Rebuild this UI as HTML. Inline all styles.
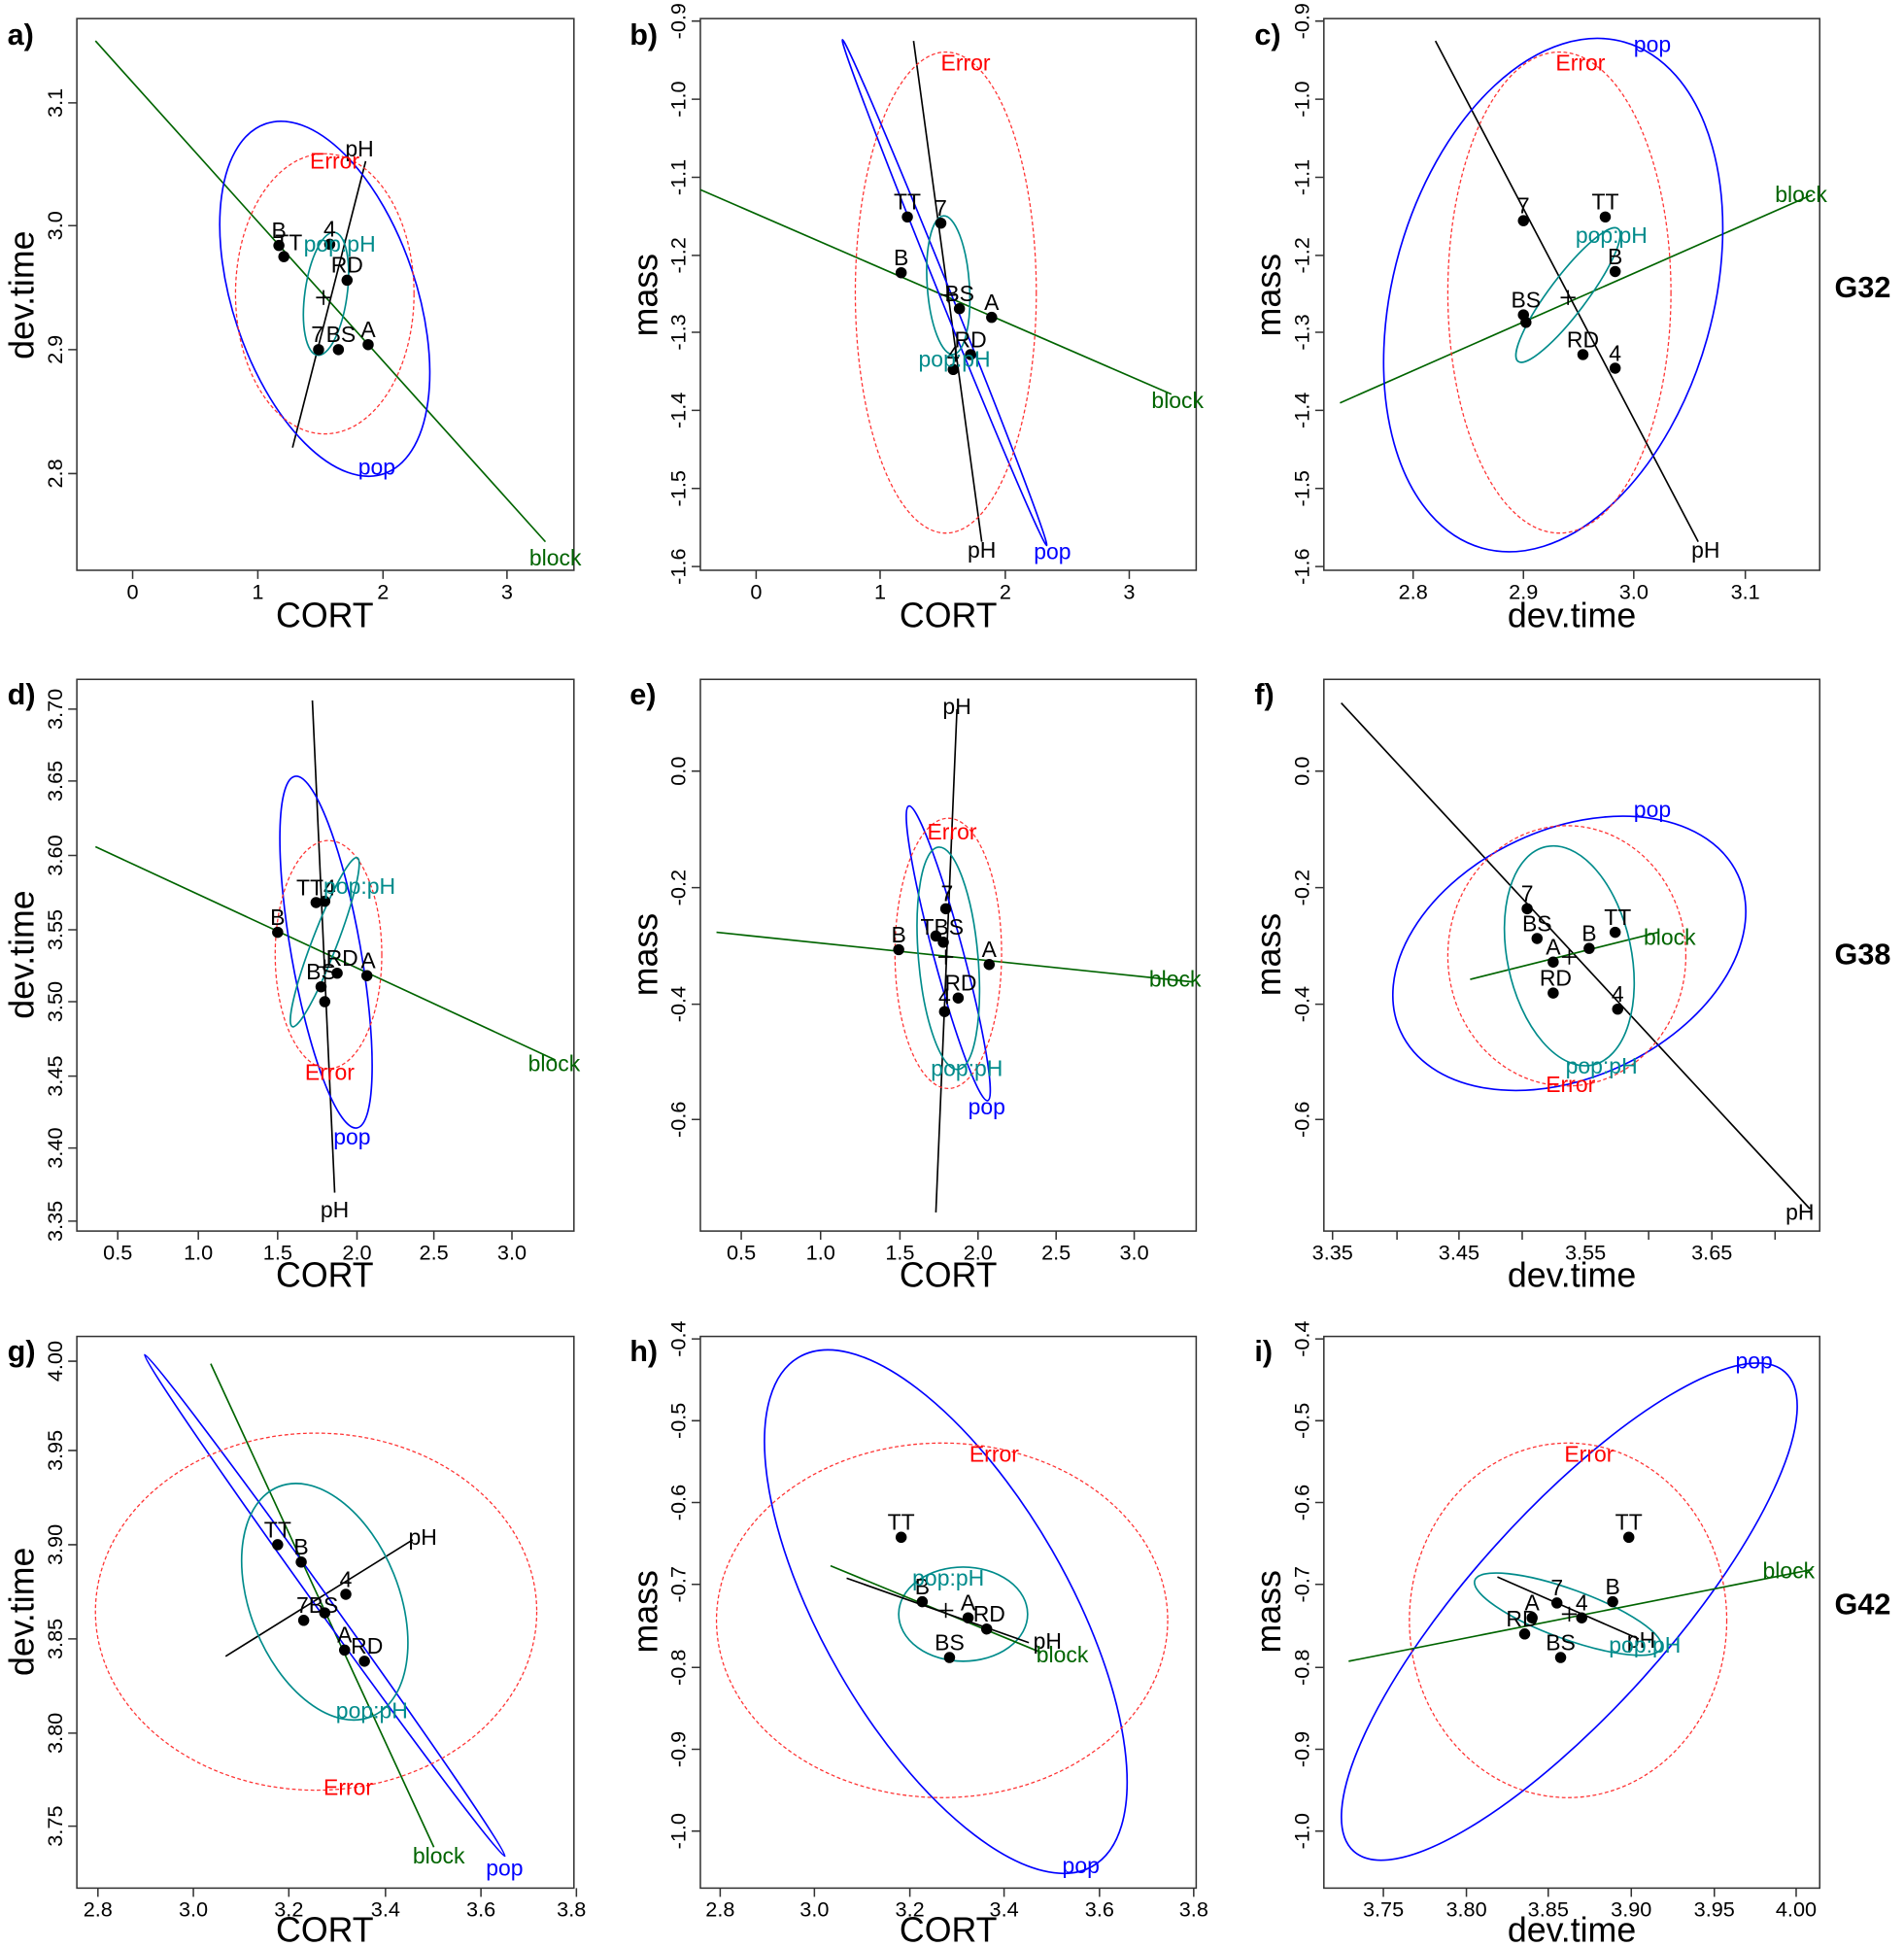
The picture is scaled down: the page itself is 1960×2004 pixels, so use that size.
<!DOCTYPE html>
<html><head><meta charset="utf-8"><style>html,body{margin:0;padding:0;background:#fff}svg{display:block}</style></head><body>
<svg width="1960" height="2004" viewBox="0 0 1536 1570.5" preserveAspectRatio="none" xmlns="http://www.w3.org/2000/svg" font-family="Liberation Sans, sans-serif">
<rect width="1536" height="1571" fill="#fff"/>
<g fill="none" stroke="#333" stroke-width="1.2">
<rect x="62" y="15" width="401" height="445"/><rect x="565" y="15" width="400" height="445"/><rect x="1068" y="15" width="400" height="445"/>
<rect x="62" y="548" width="401" height="445"/><rect x="565" y="548" width="400" height="445"/><rect x="1068" y="548" width="400" height="445"/>
<rect x="62" y="1078" width="401" height="445"/><rect x="565" y="1078" width="400" height="445"/><rect x="1068" y="1078" width="400" height="445"/>
</g>
<g stroke="#333" stroke-width="1.2">
<path d="M107 460v7M208 460v7M309 460v7M409 460v7M62 83h-7M62 182h-7M62 282h-7M62 382h-7"/>
<path d="M610 460v7M710 460v7M811 460v7M911 460v7M565 17h-7M565 80h-7M565 143h-7M565 206h-7M565 268h-7M565 331h-7M565 394h-7M565 457h-7"/>
<path d="M1140 460v7M1229 460v7M1318 460v7M1408 460v7M1068 17h-7M1068 80h-7M1068 143h-7M1068 206h-7M1068 268h-7M1068 331h-7M1068 394h-7M1068 457h-7"/>
<path d="M95 993v7M160 993v7M224 993v7M288 993v7M350 993v7M413 993v7M62 572h-7M62 630h-7M62 690h-7M62 750h-7M62 808h-7M62 868h-7M62 926h-7M62 985h-7"/>
<path d="M598 993v7M662 993v7M726 993v7M789 993v7M852 993v7M915 993v7M565 622h-7M565 716h-7M565 810h-7M565 903h-7"/>
<path d="M1075 993v7M1127 993v7M1177 993v7M1228 993v7M1279 993v7M1330 993v7M1381 993v7M1432 993v7M1068 622h-7M1068 716h-7M1068 810h-7M1068 903h-7"/>
<path d="M79 1523v7M156 1523v7M233 1523v7M311 1523v7M388 1523v7M465 1523v7M62 1098h-7M62 1170h-7M62 1246h-7M62 1322h-7M62 1398h-7M62 1473h-7"/>
<path d="M581 1523v7M657 1523v7M734 1523v7M810 1523v7M887 1523v7M963 1523v7M565 1080h-7M565 1146h-7M565 1212h-7M565 1278h-7M565 1345h-7M565 1411h-7M565 1477h-7"/>
<path d="M1116 1523v7M1183 1523v7M1249 1523v7M1316 1523v7M1383 1523v7M1449 1523v7M1068 1080h-7M1068 1146h-7M1068 1212h-7M1068 1278h-7M1068 1345h-7M1068 1411h-7M1068 1477h-7"/>
</g>
<g font-size="17" text-anchor="middle" fill="#000">
<text x="107" y="483">0</text><text x="208" y="483">1</text><text x="309" y="483">2</text><text x="409" y="483">3</text>
<text x="610" y="483">0</text><text x="710" y="483">1</text><text x="811" y="483">2</text><text x="911" y="483">3</text>
<text x="1140" y="483">2.8</text><text x="1229" y="483">2.9</text><text x="1318" y="483">3.0</text><text x="1408" y="483">3.1</text>
<text x="95" y="1016">0.5</text><text x="160" y="1016">1.0</text><text x="224" y="1016">1.5</text><text x="288" y="1016">2.0</text><text x="350" y="1016">2.5</text><text x="413" y="1016">3.0</text>
<text x="598" y="1016">0.5</text><text x="662" y="1016">1.0</text><text x="726" y="1016">1.5</text><text x="789" y="1016">2.0</text><text x="852" y="1016">2.5</text><text x="915" y="1016">3.0</text>
<text x="1075" y="1016">3.35</text><text x="1177" y="1016">3.45</text><text x="1279" y="1016">3.55</text><text x="1381" y="1016">3.65</text>
<text x="79" y="1546">2.8</text><text x="156" y="1546">3.0</text><text x="233" y="1546">3.2</text><text x="311" y="1546">3.4</text><text x="388" y="1546">3.6</text><text x="461" y="1546">3.8</text>
<text x="581" y="1546">2.8</text><text x="657" y="1546">3.0</text><text x="734" y="1546">3.2</text><text x="810" y="1546">3.4</text><text x="887" y="1546">3.6</text><text x="963" y="1546">3.8</text>
<text x="1116" y="1546">3.75</text><text x="1183" y="1546">3.80</text><text x="1249" y="1546">3.85</text><text x="1316" y="1546">3.90</text><text x="1383" y="1546">3.95</text><text x="1449" y="1546">4.00</text>
</g>
<g font-size="17" text-anchor="middle" fill="#000">
<text transform="translate(50,83) rotate(-90)">3.1</text><text transform="translate(50,182) rotate(-90)">3.0</text><text transform="translate(50,282) rotate(-90)">2.9</text><text transform="translate(50,382) rotate(-90)">2.8</text>
<text transform="translate(553,17) rotate(-90)">-0.9</text><text transform="translate(553,80) rotate(-90)">-1.0</text><text transform="translate(553,143) rotate(-90)">-1.1</text><text transform="translate(553,206) rotate(-90)">-1.2</text><text transform="translate(553,268) rotate(-90)">-1.3</text><text transform="translate(553,331) rotate(-90)">-1.4</text><text transform="translate(553,394) rotate(-90)">-1.5</text><text transform="translate(553,457) rotate(-90)">-1.6</text>
<text transform="translate(1056,17) rotate(-90)">-0.9</text><text transform="translate(1056,80) rotate(-90)">-1.0</text><text transform="translate(1056,143) rotate(-90)">-1.1</text><text transform="translate(1056,206) rotate(-90)">-1.2</text><text transform="translate(1056,268) rotate(-90)">-1.3</text><text transform="translate(1056,331) rotate(-90)">-1.4</text><text transform="translate(1056,394) rotate(-90)">-1.5</text><text transform="translate(1056,457) rotate(-90)">-1.6</text>
<text transform="translate(50,572) rotate(-90)">3.70</text><text transform="translate(50,630) rotate(-90)">3.65</text><text transform="translate(50,690) rotate(-90)">3.60</text><text transform="translate(50,750) rotate(-90)">3.55</text><text transform="translate(50,808) rotate(-90)">3.50</text><text transform="translate(50,868) rotate(-90)">3.45</text><text transform="translate(50,926) rotate(-90)">3.40</text><text transform="translate(50,985) rotate(-90)">3.35</text>
<text transform="translate(553,622) rotate(-90)">0.0</text><text transform="translate(553,716) rotate(-90)">-0.2</text><text transform="translate(553,810) rotate(-90)">-0.4</text><text transform="translate(553,903) rotate(-90)">-0.6</text>
<text transform="translate(1056,622) rotate(-90)">0.0</text><text transform="translate(1056,716) rotate(-90)">-0.2</text><text transform="translate(1056,810) rotate(-90)">-0.4</text><text transform="translate(1056,903) rotate(-90)">-0.6</text>
<text transform="translate(50,1098) rotate(-90)">4.00</text><text transform="translate(50,1170) rotate(-90)">3.95</text><text transform="translate(50,1246) rotate(-90)">3.90</text><text transform="translate(50,1322) rotate(-90)">3.85</text><text transform="translate(50,1398) rotate(-90)">3.80</text><text transform="translate(50,1473) rotate(-90)">3.75</text>
<text transform="translate(553,1080) rotate(-90)">-0.4</text><text transform="translate(553,1146) rotate(-90)">-0.5</text><text transform="translate(553,1212) rotate(-90)">-0.6</text><text transform="translate(553,1278) rotate(-90)">-0.7</text><text transform="translate(553,1345) rotate(-90)">-0.8</text><text transform="translate(553,1411) rotate(-90)">-0.9</text><text transform="translate(553,1477) rotate(-90)">-1.0</text>
<text transform="translate(1056,1080) rotate(-90)">-0.4</text><text transform="translate(1056,1146) rotate(-90)">-0.5</text><text transform="translate(1056,1212) rotate(-90)">-0.6</text><text transform="translate(1056,1278) rotate(-90)">-0.7</text><text transform="translate(1056,1345) rotate(-90)">-0.8</text><text transform="translate(1056,1411) rotate(-90)">-0.9</text><text transform="translate(1056,1477) rotate(-90)">-1.0</text>
</g>
<g font-size="28" text-anchor="middle" fill="#000">
<text x="262" y="506">CORT</text><text x="765" y="506">CORT</text><text x="1268" y="506">dev.time</text>
<text x="262" y="1038">CORT</text><text x="765" y="1038">CORT</text><text x="1268" y="1038">dev.time</text>
<text x="262" y="1566">CORT</text><text x="765" y="1566">CORT</text><text x="1268" y="1566">dev.time</text>
<text transform="translate(27,238) rotate(-90)">dev.time</text><text transform="translate(530,238) rotate(-90)">mass</text><text transform="translate(1033,238) rotate(-90)">mass</text>
<text transform="translate(27,770) rotate(-90)">dev.time</text><text transform="translate(530,770) rotate(-90)">mass</text><text transform="translate(1033,770) rotate(-90)">mass</text>
<text transform="translate(27,1300) rotate(-90)">dev.time</text><text transform="translate(530,1300) rotate(-90)">mass</text><text transform="translate(1033,1300) rotate(-90)">mass</text>
</g>
<g font-size="24" font-weight="bold" fill="#000">
<text x="6" y="36">a)</text><text x="508" y="36">b)</text><text x="1012" y="36">c)</text>
<text x="6" y="568">d)</text><text x="508" y="568">e)</text><text x="1012" y="568">f)</text>
<text x="6" y="1098">g)</text><text x="508" y="1098">h)</text><text x="1012" y="1098">i)</text>
<text x="1480" y="240">G32</text><text x="1480" y="778">G38</text><text x="1480" y="1302">G42</text>
</g>

<!-- PANEL a -->
<g fill="none" stroke-width="1.3">
<line x1="77" y1="33" x2="440" y2="437" stroke="#006400"/>
<line x1="236" y1="361" x2="295" y2="130" stroke="#000"/>
<ellipse cx="262" cy="241" rx="74" ry="149" transform="rotate(-18.6 262 241)" stroke="#00f"/>
<ellipse cx="262" cy="237" rx="72" ry="113" stroke="#f33" stroke-dasharray="3,2" stroke-width="1"/>
<ellipse cx="263" cy="237" rx="17" ry="50" transform="rotate(8 263 237)" stroke="#008b8b"/>
<path d="M255 240h12M261 234v12" stroke="#000"/>
</g>
<g fill="#000"><circle cx="225" cy="198" r="4.5"/><circle cx="229" cy="207" r="4.5"/><circle cx="266" cy="197" r="4.5"/><circle cx="280" cy="226" r="4.5"/><circle cx="257" cy="282" r="4.5"/><circle cx="273" cy="282" r="4.5"/><circle cx="297" cy="278" r="4.5"/></g>
<g font-size="18" text-anchor="middle">
<text x="225" y="192">B</text><text x="233" y="202">TT</text><text x="266" y="191">4</text><text x="280" y="220">RD</text><text x="256" y="276">7</text><text x="275" y="276">BS</text><text x="297" y="272">A</text>
<text x="290" y="126" fill="#000">pH</text><text x="270" y="136" fill="#f00">Error</text><text x="274" y="203" fill="#008b8b">pop:pH</text><text x="304" y="383" fill="#00f">pop</text><text x="448" y="456" fill="#006400">block</text>
</g>

<!-- PANEL b -->
<g fill="none" stroke-width="1.3">
<line x1="565" y1="153" x2="945" y2="318" stroke="#006400"/>
<line x1="737" y1="33" x2="792" y2="437" stroke="#000"/>
<ellipse cx="762" cy="236" rx="4.5" ry="220" transform="rotate(-22 762 236)" stroke="#00f"/>
<ellipse cx="763" cy="236" rx="73" ry="194" stroke="#f33" stroke-dasharray="3,2" stroke-width="1"/>
<ellipse cx="765" cy="230" rx="17" ry="56" transform="rotate(-4 765 230)" stroke="#008b8b"/>
<path d="M759 238h12M765 232v12" stroke="#000"/>
</g>
<g fill="#000"><circle cx="732" cy="175" r="4.5"/><circle cx="759" cy="180" r="4.5"/><circle cx="727" cy="220" r="4.5"/><circle cx="774" cy="249" r="4.5"/><circle cx="800" cy="256" r="4.5"/><circle cx="783" cy="286" r="4.5"/><circle cx="769" cy="298" r="4.5"/></g>
<g font-size="18" text-anchor="middle">
<text x="732" y="169">TT</text><text x="759" y="174">7</text><text x="727" y="214">B</text><text x="774" y="243">BS</text><text x="800" y="250">A</text><text x="783" y="280">RD</text><text x="769" y="292">4</text>
<text x="792" y="450" fill="#000">pH</text><text x="779" y="57" fill="#f00">Error</text><text x="770" y="296" fill="#008b8b">pop:pH</text><text x="849" y="451" fill="#00f">pop</text><text x="950" y="329" fill="#006400">block</text>
</g>

<!-- PANEL c -->
<g fill="none" stroke-width="1.3">
<line x1="1081" y1="325" x2="1462" y2="157" stroke="#006400"/>
<line x1="1158" y1="33" x2="1370" y2="437" stroke="#000"/>
<ellipse cx="1253" cy="238" rx="129" ry="212" transform="rotate(15.7 1253 238)" stroke="#00f"/>
<ellipse cx="1258" cy="236" rx="90" ry="194" stroke="#f33" stroke-dasharray="3,2" stroke-width="1"/>
<ellipse cx="1265" cy="238" rx="15" ry="67" transform="rotate(37 1265 238)" stroke="#008b8b"/>
<path d="M1259 240h12M1265 234v12" stroke="#000"/>
</g>
<g fill="#000"><circle cx="1229" cy="178" r="4.5"/><circle cx="1295" cy="175" r="4.5"/><circle cx="1303" cy="219" r="4.5"/><circle cx="1229" cy="254" r="4.5"/><circle cx="1231" cy="260" r="4.5"/><circle cx="1277" cy="286" r="4.5"/><circle cx="1303" cy="297" r="4.5"/></g>
<g font-size="18" text-anchor="middle">
<text x="1229" y="172">7</text><text x="1295" y="169">TT</text><text x="1303" y="213">B</text><text x="1231" y="248">BS</text><text x="1277" y="280">RD</text><text x="1303" y="291">4</text>
<text x="1376" y="450" fill="#000">pH</text><text x="1275" y="57" fill="#f00">Error</text><text x="1300" y="196" fill="#008b8b">pop:pH</text><text x="1333" y="42" fill="#00f">pop</text><text x="1453" y="163" fill="#006400">block</text>
</g>

<!-- PANEL d -->
<g fill="none" stroke-width="1.3">
<line x1="77" y1="683" x2="448" y2="855" stroke="#006400"/>
<line x1="252" y1="565" x2="270" y2="962" stroke="#000"/>
<ellipse cx="263" cy="768" rx="28" ry="144" transform="rotate(-10 263 768)" stroke="#00f"/>
<ellipse cx="265" cy="770" rx="43" ry="92" stroke="#f33" stroke-dasharray="3,2" stroke-width="1"/>
<ellipse cx="262" cy="760" rx="10" ry="73" transform="rotate(21 262 760)" stroke="#008b8b"/>
<path d="M256 780h12M262 774v12" stroke="#000"/>
</g>
<g fill="#000"><circle cx="224" cy="752" r="4.5"/><circle cx="255" cy="728" r="4.5"/><circle cx="262" cy="727" r="4.5"/><circle cx="272" cy="785" r="4.5"/><circle cx="296" cy="787" r="4.5"/><circle cx="259" cy="796" r="4.5"/><circle cx="262" cy="808" r="4.5"/></g>
<g font-size="18" text-anchor="middle">
<text x="224" y="746">B</text><text x="255" y="722">TT4</text><text x="276" y="779">RD</text><text x="297" y="781">A</text><text x="259" y="790">BS</text>
<text x="270" y="982" fill="#000">pH</text><text x="266" y="871" fill="#f00">Error</text><text x="290" y="721" fill="#008b8b">pop:pH</text><text x="284" y="923" fill="#00f">pop</text><text x="447" y="864" fill="#006400">block</text>
</g>

<!-- PANEL e -->
<g fill="none" stroke-width="1.3">
<line x1="578" y1="752" x2="962" y2="792" stroke="#006400"/>
<line x1="755" y1="978" x2="772" y2="572" stroke="#000"/>
<ellipse cx="765" cy="769" rx="12" ry="123" transform="rotate(-15 765 769)" stroke="#00f"/>
<ellipse cx="765" cy="769" rx="43" ry="109" stroke="#f33" stroke-dasharray="3,2" stroke-width="1"/>
<ellipse cx="765" cy="773" rx="24" ry="90" transform="rotate(-5 765 773)" stroke="#008b8b"/>
<path d="M757 772h12M763 766v12" stroke="#000"/>
</g>
<g fill="#000"><circle cx="725" cy="766" r="4.5"/><circle cx="763" cy="733" r="4.5"/><circle cx="755" cy="755" r="4.5"/><circle cx="761" cy="760" r="4.5"/><circle cx="798" cy="778" r="4.5"/><circle cx="773" cy="805" r="4.5"/><circle cx="762" cy="816" r="4.5"/></g>
<g font-size="18" text-anchor="middle">
<text x="725" y="760">B</text><text x="764" y="727">7</text><text x="760" y="754">TBS</text><text x="798" y="772">A</text><text x="775" y="799">RD</text><text x="762" y="810">4</text>
<text x="772" y="576" fill="#000">pH</text><text x="768" y="677" fill="#f00">Error</text><text x="780" y="868" fill="#008b8b">pop:pH</text><text x="796" y="899" fill="#00f">pop</text><text x="948" y="796" fill="#006400">block</text>
</g>

<!-- PANEL f -->
<g fill="none" stroke-width="1.3">
<line x1="1082" y1="567" x2="1460" y2="975" stroke="#000"/>
<line x1="1186" y1="790" x2="1338" y2="752" stroke="#006400"/>
<ellipse cx="1266" cy="769" rx="150" ry="100" transform="rotate(-25 1266 769)" stroke="#00f"/>
<ellipse cx="1264" cy="771" rx="96" ry="105" stroke="#f33" stroke-dasharray="3,2" stroke-width="1"/>
<ellipse cx="1266" cy="771" rx="50" ry="90" transform="rotate(-12 1266 771)" stroke="#008b8b"/>
<path d="M1260 772h12M1266 766v12" stroke="#000"/>
</g>
<g fill="#000"><circle cx="1232" cy="733" r="4.5"/><circle cx="1240" cy="757" r="4.5"/><circle cx="1253" cy="776" r="4.5"/><circle cx="1282" cy="765" r="4.5"/><circle cx="1303" cy="752" r="4.5"/><circle cx="1253" cy="801" r="4.5"/><circle cx="1305" cy="814" r="4.5"/></g>
<g font-size="18" text-anchor="middle">
<text x="1232" y="727">7</text><text x="1240" y="751">BS</text><text x="1253" y="770">A</text><text x="1282" y="759">B</text><text x="1305" y="746">TT</text><text x="1255" y="795">RD</text><text x="1305" y="808">4</text>
<text x="1452" y="984" fill="#000">pH</text><text x="1267" y="881" fill="#f00">Error</text><text x="1292" y="866" fill="#008b8b">pop:pH</text><text x="1333" y="659" fill="#00f">pop</text><text x="1347" y="762" fill="#006400">block</text>
</g>

<!-- PANEL g -->
<g fill="none" stroke-width="1.3">
<line x1="170" y1="1100" x2="350" y2="1490" stroke="#006400"/>
<line x1="182" y1="1336" x2="333" y2="1242" stroke="#000"/>
<ellipse cx="262" cy="1295" rx="6" ry="249" transform="rotate(-35.7 262 1295)" stroke="#00f"/>
<ellipse cx="255" cy="1300" rx="178" ry="144" stroke="#f33" stroke-dasharray="3,2" stroke-width="1"/>
<ellipse cx="262" cy="1292" rx="60" ry="100" transform="rotate(-22 262 1292)" stroke="#008b8b"/>
</g>
<g fill="#000"><circle cx="224" cy="1246" r="4.5"/><circle cx="243" cy="1260" r="4.5"/><circle cx="279" cy="1286" r="4.5"/><circle cx="245" cy="1307" r="4.5"/><circle cx="262" cy="1301" r="4.5"/><circle cx="278" cy="1331" r="4.5"/><circle cx="294" cy="1340" r="4.5"/></g>
<g font-size="18" text-anchor="middle">
<text x="224" y="1240">TT</text><text x="243" y="1254">B</text><text x="279" y="1280">4</text><text x="256" y="1301">7BS</text><text x="278" y="1325">A</text><text x="296" y="1334">RD</text>
<text x="341" y="1246" fill="#000">pH</text><text x="281" y="1448" fill="#f00">Error</text><text x="300" y="1386" fill="#008b8b">pop:pH</text><text x="407" y="1513" fill="#00f">pop</text><text x="354" y="1503" fill="#006400">block</text>
</g>

<!-- PANEL h -->
<g fill="none" stroke-width="1.3">
<ellipse cx="763" cy="1300" rx="99" ry="237" transform="rotate(-30 763 1300)" stroke="#00f"/>
<ellipse cx="760" cy="1307" rx="182" ry="143" stroke="#f33" stroke-dasharray="3,2" stroke-width="1"/>
<ellipse cx="777" cy="1302" rx="52" ry="38" stroke="#008b8b"/>
<line x1="670" y1="1263" x2="840" y2="1333" stroke="#006400"/>
<line x1="683" y1="1273" x2="830" y2="1325" stroke="#000"/>
<path d="M757 1299h12M763 1293v12" stroke="#000"/>
</g>
<g fill="#000"><circle cx="727" cy="1240" r="4.5"/><circle cx="744" cy="1292" r="4.5"/><circle cx="781" cy="1305" r="4.5"/><circle cx="796" cy="1314" r="4.5"/><circle cx="766" cy="1337" r="4.5"/></g>
<g font-size="18" text-anchor="middle">
<text x="727" y="1234">TT</text><text x="744" y="1286">B</text><text x="781" y="1299">A</text><text x="798" y="1308">RD</text><text x="766" y="1331">BS</text>
<text x="845" y="1330" fill="#000">pH</text><text x="802" y="1179" fill="#f00">Error</text><text x="765" y="1279" fill="#008b8b">pop:pH</text><text x="872" y="1511" fill="#00f">pop</text><text x="857" y="1341" fill="#006400">block</text>
</g>

<!-- PANEL i -->
<g fill="none" stroke-width="1.3">
<ellipse cx="1266" cy="1300" rx="260" ry="80" transform="rotate(-48 1266 1300)" stroke="#00f"/>
<ellipse cx="1265" cy="1307" rx="128" ry="143" stroke="#f33" stroke-dasharray="3,2" stroke-width="1"/>
<ellipse cx="1265" cy="1302" rx="80" ry="20" transform="rotate(20 1265 1302)" stroke="#008b8b"/>
<line x1="1088" y1="1340" x2="1462" y2="1266" stroke="#006400"/>
<line x1="1208" y1="1272" x2="1322" y2="1322" stroke="#000"/>
<path d="M1260 1302h12M1266 1296v12" stroke="#000"/>
</g>
<g fill="#000"><circle cx="1314" cy="1240" r="4.5"/><circle cx="1301" cy="1292" r="4.5"/><circle cx="1256" cy="1293" r="4.5"/><circle cx="1276" cy="1305" r="4.5"/><circle cx="1236" cy="1305" r="4.5"/><circle cx="1230" cy="1318" r="4.5"/><circle cx="1259" cy="1337" r="4.5"/></g>
<g font-size="18" text-anchor="middle">
<text x="1314" y="1234">TT</text><text x="1301" y="1286">B</text><text x="1256" y="1287">7</text><text x="1276" y="1299">4</text><text x="1236" y="1299">A</text><text x="1228" y="1312">RD</text><text x="1259" y="1331">BS</text>
<text x="1324" y="1329" fill="#000">pH</text><text x="1282" y="1179" fill="#f00">Error</text><text x="1327" y="1333" fill="#008b8b">pop:pH</text><text x="1415" y="1104" fill="#00f">pop</text><text x="1443" y="1273" fill="#006400">block</text>
</g>
</svg>
</body></html>
